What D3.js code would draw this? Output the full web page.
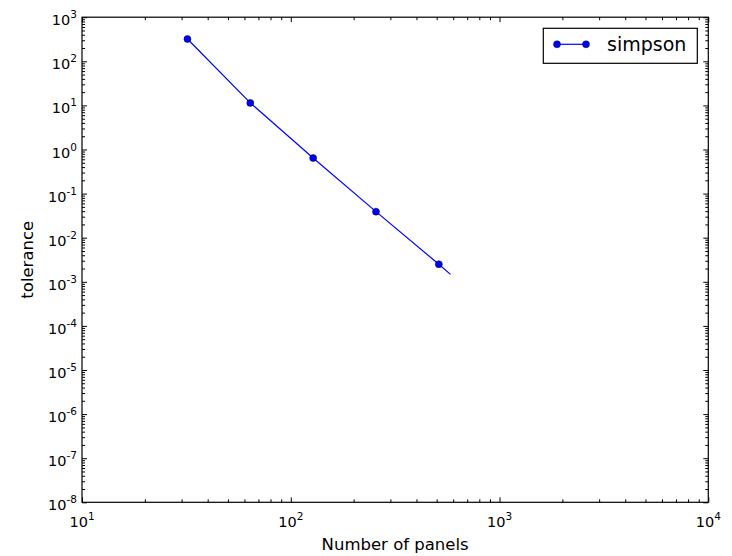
<!DOCTYPE html>
<html><head><meta charset="utf-8">
<script src="https://cdn.jsdelivr.net/npm/d3@7"></script>
<style>body{margin:0;background:#fff} text{font-family:"DejaVu Sans",sans-serif;fill:#000}</style>
</head><body><svg id="c" width="732" height="556"></svg>
<script>
// data
const panels = [32, 64, 128, 256, 512];
const tolerance = [320, 11.4, 0.64, 0.039, 0.0025];
const lineExtraPanels = [582];
const lineExtraTolerance = [0.00147];
const xTickExps = [1, 2, 3, 4];
const yTickExps = [3, 2, 1, 0, -1, -2, -3, -4, -5, -6, -7, -8];
const seriesName = "simpson";
const xLabel = "Number of panels";
const yLabel = "tolerance";

const L = 82, R = 708.3, T = 17.2, B = 502.3;
const svg = d3.select("#c");
const x = d3.scaleLog().domain([10, 1e4]).range([L, R]);
const y = d3.scaleLog().domain([1e-8, 1e3]).range([B, T]);

function minorTicks(exps) {
  const out = [];
  const lo = d3.min(exps), hi = d3.max(exps);
  for (let e = lo; e < hi; e++) for (let k = 2; k <= 9; k++) out.push(k * Math.pow(10, e));
  return out;
}
const xMajor = xTickExps.map(e => Math.pow(10, e));
const yMajor = yTickExps.map(e => Math.pow(10, e));
const xMinor = minorTicks(xTickExps);
const yMinor = minorTicks(yTickExps);

function addAxis(axisFn, scale, vals, size, transform) {
  const g = svg.append("g").attr("transform", transform)
    .call(axisFn(scale).tickValues(vals).tickSize(-size).tickFormat(""));
  g.select(".domain").remove();
  g.selectAll(".tick line").attr("stroke", "#000").attr("stroke-width", 1);
  return g;
}
// bottom / top
addAxis(d3.axisBottom, x, xMajor, 5, `translate(0,${B})`);
addAxis(d3.axisBottom, x, xMinor, 3, `translate(0,${B})`);
addAxis(d3.axisTop, x, xMajor, 5, `translate(0,${T})`);
addAxis(d3.axisTop, x, xMinor, 3, `translate(0,${T})`);
// left / right
addAxis(d3.axisLeft, y, yMajor, 5, `translate(${L},0)`);
addAxis(d3.axisLeft, y, yMinor, 3, `translate(${L},0)`);
addAxis(d3.axisRight, y, yMajor, 5, `translate(${R},0)`);
addAxis(d3.axisRight, y, yMinor, 3, `translate(${R},0)`);

// frame
svg.append("rect").attr("x", L).attr("y", T).attr("width", R - L).attr("height", B - T)
  .attr("fill", "none").attr("stroke", "#000").attr("stroke-width", 1.2);

// tick labels
function powLabel(sel, e) {
  sel.append("tspan").text("10").attr("font-size", 14.5);
  sel.append("tspan").text(String(e)).attr("font-size", 10.5).attr("dy", -7);
}
xTickExps.forEach(e => {
  const t = svg.append("text").attr("x", x(Math.pow(10, e))).attr("y", B + 24.5)
    .attr("text-anchor", "middle");
  powLabel(t, e);
});
yTickExps.forEach(e => {
  const t = svg.append("text").attr("x", L - 5).attr("y", y(Math.pow(10, e)) + 8)
    .attr("text-anchor", "end");
  powLabel(t, e);
});

// axis labels
svg.append("text").attr("x", (L + R) / 2).attr("y", 550).attr("text-anchor", "middle")
  .attr("font-size", 16.5).text(xLabel);
svg.append("text").attr("transform", `translate(33.3,${(T + B) / 2}) rotate(-90)`)
  .attr("text-anchor", "middle").attr("font-size", 16.5).text(yLabel);

// series
const lineData = panels.map((p, i) => [p, tolerance[i]])
  .concat(lineExtraPanels.map((p, i) => [p, lineExtraTolerance[i]]));
const line = d3.line().x(d => x(d[0])).y(d => y(d[1]));
svg.append("path").datum(lineData).attr("d", line)
  .attr("fill", "none").attr("stroke", "#0000ff").attr("stroke-width", 1.2);
svg.selectAll("circle.pt").data(panels.map((p, i) => [p, tolerance[i]])).enter()
  .append("circle").attr("class", "pt")
  .attr("cx", d => x(d[0])).attr("cy", d => y(d[1])).attr("r", 3.5)
  .attr("fill", "#0000ff").attr("stroke", "#000").attr("stroke-width", 0.5);

// legend
const lg = svg.append("g");
lg.append("rect").attr("x", 543.3).attr("y", 28.3).attr("width", 154).attr("height", 35)
  .attr("fill", "#fff").attr("stroke", "#000").attr("stroke-width", 1.2);
lg.append("line").attr("x1", 557).attr("x2", 586).attr("y1", 44.3).attr("y2", 44.3)
  .attr("stroke", "#0000ff").attr("stroke-width", 1.2);
[557, 586].forEach(cx => lg.append("circle").attr("cx", cx).attr("cy", 44.3).attr("r", 3.5)
  .attr("fill", "#0000ff").attr("stroke", "#000").attr("stroke-width", 0.5));
lg.append("text").attr("x", 607).attr("y", 50.5).attr("font-size", 19).text(seriesName);
</script></body></html>
